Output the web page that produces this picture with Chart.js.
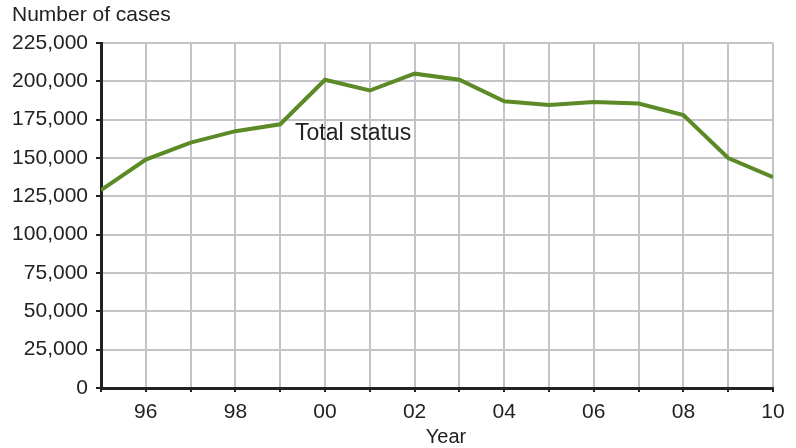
<!DOCTYPE html>
<html>
<head>
<meta charset="utf-8">
<script src="https://cdn.jsdelivr.net/npm/chart.js@4.4.1/dist/chart.umd.min.js"></script>
<style>
  html, body { margin: 0; padding: 0; background: #fff; }
  #wrap { width: 796px; height: 448px; position: relative; }
</style>
</head>
<body>
<div id="wrap"><canvas id="grafico"></canvas></div>
<script>
// Anos e número de casos (status total)
const anos = [1995, 1996, 1997, 1998, 1999, 2000, 2001, 2002, 2003, 2004, 2005, 2006, 2007, 2008, 2009, 2010];
const casos = [129000, 149000, 160000, 167500, 172000, 201000, 194000, 205000, 201000, 187000, 184500, 186500, 185500, 178000, 150000, 137500];
const ticksY = [0, 25000, 50000, 75000, 100000, 125000, 150000, 175000, 200000, 225000];
const rotuloSerie = "Total status";
const tituloY = "Number of cases";
const tituloX = "Year";

const fonte = "'Liberation Sans', Arial, Helvetica, sans-serif";
const corTexto = "#222";

// Textos fixos: títulos dos eixos e rótulo da série dentro do gráfico
const textos = {
  id: "textos",
  afterDraw(chart) {
    const c = chart.ctx;
    const { x, y } = chart.scales;
    c.save();
    c.fillStyle = corTexto;
    c.textBaseline = "middle";
    c.textAlign = "left";
    c.font = "21px " + fonte;
    c.fillText(tituloY, 12, 15);
    c.font = "23px " + fonte;
    c.fillText(rotuloSerie, x.getPixelForValue(1999.33), y.getPixelForValue(166000));
    c.font = "20px " + fonte;
    c.textAlign = "center";
    c.fillText(tituloX, x.getPixelForValue(2002.7), 437);
    c.restore();
  },
};

new Chart(document.getElementById("grafico"), {
  type: "line",
  data: {
    datasets: [{
      label: rotuloSerie,
      data: anos.map((a, i) => ({ x: a, y: casos[i] })),
      borderColor: "#5b8a27",
      borderWidth: 4,
      pointRadius: 0,
      tension: 0,
    }],
  },
  options: {
    responsive: true,
    maintainAspectRatio: false,
    animation: false,
    layout: { padding: { top: 43, right: 23, left: 0, bottom: 0 } },
    plugins: { legend: { display: false }, tooltip: { enabled: false } },
    scales: {
      x: {
        type: "linear",
        min: anos[0],
        max: anos[anos.length - 1],
        afterBuildTicks: (s) => { s.ticks = anos.map((a) => ({ value: a })); },
        afterFit: (s) => { s.height = 60; },
        ticks: {
          color: corTexto,
          font: { size: 21, family: fonte },
          padding: 8,
          maxRotation: 0,
          autoSkip: false,
          callback: (v) => (v % 2 === 0 && v !== anos[0] ? String(v).slice(2) : ""),
        },
        grid: { color: "#c4c4c8", lineWidth: 2, tickLength: 4, tickColor: corTexto, tickWidth: 2 },
        border: { color: corTexto, width: 3 },
      },
      y: {
        min: 0,
        max: 225000,
        afterBuildTicks: (s) => { s.ticks = ticksY.map((v) => ({ value: v })); },
        afterFit: (s) => { s.width = 101; },
        ticks: {
          color: corTexto,
          font: { size: 21, family: fonte },
          padding: 8,
          callback: (v) => v.toLocaleString("en-US"),
        },
        grid: { color: "#c4c4c8", lineWidth: 2, tickLength: 5, tickColor: corTexto, tickWidth: 2 },
        border: { color: corTexto, width: 3 },
      },
    },
  },
  plugins: [textos],
});
</script>
</body>
</html>
